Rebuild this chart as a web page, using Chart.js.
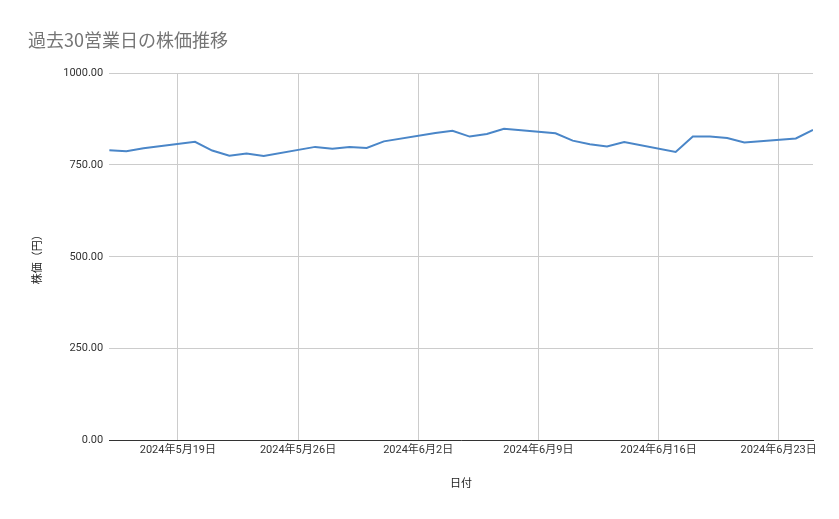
<!DOCTYPE html>
<html><head><meta charset="utf-8">
<script src="https://cdn.jsdelivr.net/npm/chart.js@4"></script>
<style>
body{margin:0;background:#fff;font-family:"Noto Sans CJK JP",Roboto,sans-serif}
#wrap{position:relative;width:839px;height:519px}
#title{position:absolute;left:28px;top:26px;font-size:18px;color:#757575}
</style></head><body>
<div id="wrap"><div id="title">過去30営業日の株価推移</div><canvas id="chart" width="839" height="519"></canvas></div>
<script>
// days since 2024-05-15 (business days only)
const days = [0,1,2,5,6,7,8,9,12,13,14,15,16,19,20,21,22,23,26,27,28,29,30,33,34,35,36,37,40,41]
const prices = [790,787,795,813,789,775,781,774,799,794,799,796,814,837,843,827,834,848,836,816,806,800,812,785,827,827,823,811,822,845]
const tickDays = [4,11,18,25,32,39]
const tickLabels = ["2024年5月19日","2024年5月26日","2024年6月2日","2024年6月9日","2024年6月16日","2024年6月23日"]

const font = {family:"Roboto, 'Noto Sans CJK JP'", size:11}

new Chart(document.getElementById("chart"),{
type:"line",
data:{datasets:[{
data:days.map((d,i)=>({x:d,y:prices[i]})),
borderColor:"#4a86c8",borderWidth:2,pointRadius:0,tension:0
}]},
options:{
responsive:false,animation:false,
layout:{padding:{top:73,right:26,left:28,bottom:24}},
plugins:{legend:{display:false},tooltip:{enabled:false}},
scales:{
x:{type:"linear",min:0,max:41,
afterBuildTicks:ax=>{ax.ticks=tickDays.map(v=>({value:v}))},
ticks:{color:"#333",font,maxRotation:0,autoSkip:false,
callback:v=>tickLabels[tickDays.indexOf(v)]},
grid:{color:"#cccccc",drawTicks:false},border:{color:"#333"},
title:{display:true,text:"日付",color:"#222",font:{...font,size:11},padding:{top:18}}},
y:{min:0,max:1000,
ticks:{stepSize:250,color:"#333",font,padding:6,callback:v=>v.toFixed(2)},
grid:{color:"#cccccc",drawTicks:false},border:{display:false},
title:{display:true,text:"株価（円）",color:"#222",font:{...font,size:11},padding:{bottom:12}}}
}}
})
</script></body></html>
